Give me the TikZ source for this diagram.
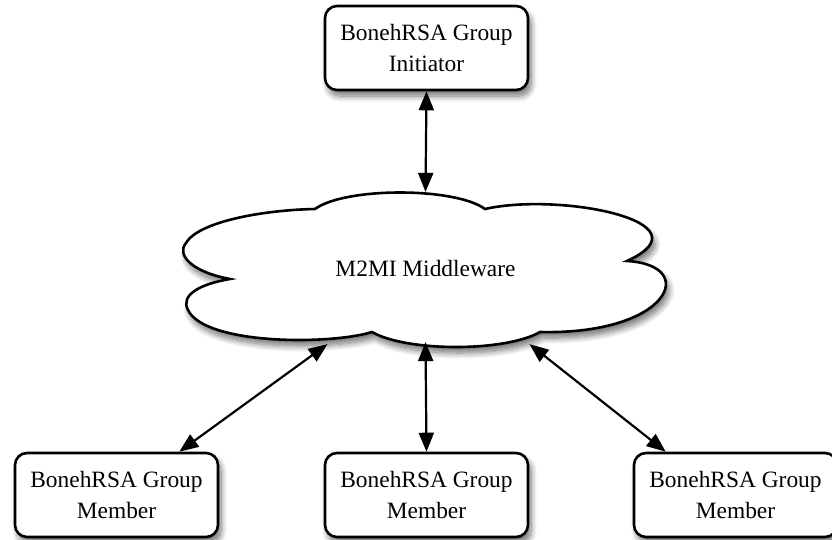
\documentclass[tikz,border=0pt]{standalone}
\usepackage{fontspec}
\setmainfont{Liberation Serif}
\usetikzlibrary{arrows.meta,shadows.blur}

\tikzset{
    softshadow/.style={blur shadow={shadow xshift=3pt, shadow yshift=-6pt, shadow blur radius=6pt, shadow blur steps=10, shadow opacity=55}},
    peer/.style={draw, line width=2.6pt, rounded corners=12pt, fill=white, minimum width=203pt, minimum height=84pt, align=center, softshadow},
    middleware/.style={draw, line width=2.6pt, fill=white, softshadow},
}

\begin{document}
\begin{tikzpicture}[x=1pt, y=-1pt, >={Triangle[length=19pt, width=15pt, fill=black]}, line width=2.2pt, font=\fontsize{23.4}{31}\selectfont]
    \useasboundingbox (0,0) rectangle (832,539);
    % the middleware cloud, six puffs
    \draw[middleware] (315,209) .. controls (345,187) and (455,187) .. (485,209)
        .. controls (560,192) and (712,222) .. (627,261)
        .. controls (700,265) and (670,335) .. (540,332)
        .. controls (505,352) and (407,352) .. (372,332)
        .. controls (330,345) and (205,345) .. (188,310)
        .. controls (180,295) and (200,284) .. (230,279)
        .. controls (192,272) and (176,255) .. (186,243)
        .. controls (198,222) and (262,210) .. cycle;
    \node[minimum width=485pt, minimum height=150pt] (m2mi) at (425.5,268) {M2MI Middleware};
    \node[peer] (initiator) at (426.5,48) {BonehRSA Group\\Initiator};
    \node[peer] (member_a) at (116.5,495) {BonehRSA Group\\Member};
    \node[peer] (member_b) at (426.5,495) {BonehRSA Group\\Member};
    \node[peer] (member_c) at (735.5,495) {BonehRSA Group\\Member};
    \draw[<->] (initiator.south) -- (m2mi.north);
    \draw[<->] ([xshift=-98pt]m2mi.south) -- ([xshift=-40pt]member_a.north east);
    \draw[<->] ([yshift=2pt]m2mi.south) -- (member_b.north);
    \draw[<->] ([xshift=104pt]m2mi.south) -- ([xshift=33pt]member_c.north west);
\end{tikzpicture}
\end{document}
